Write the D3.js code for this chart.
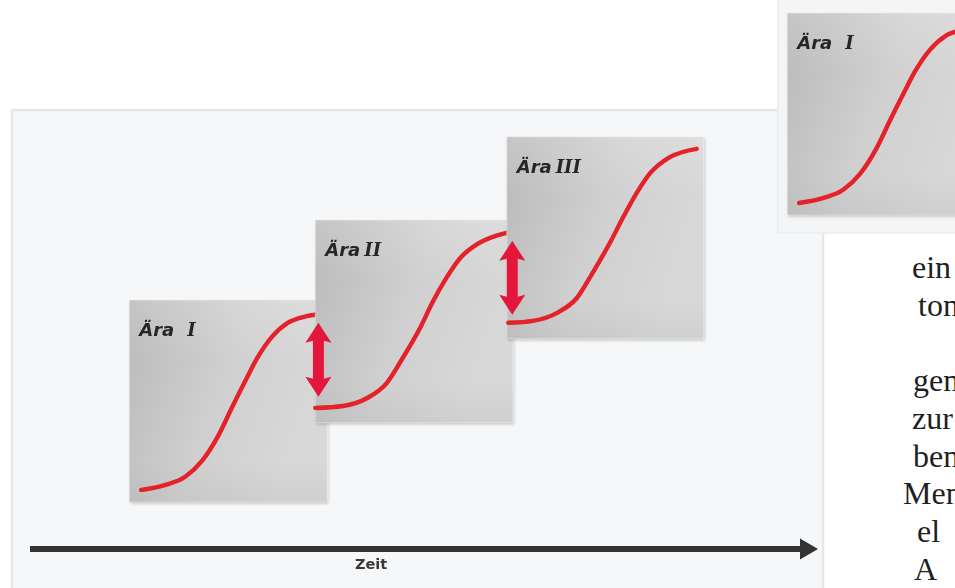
<!DOCTYPE html>
<html>
<head>
<meta charset="utf-8">
<script src="https://cdn.jsdelivr.net/npm/d3@7"></script>
<style>
  html, body { margin: 0; padding: 0; background: #ffffff; }
  svg { display: block; }
</style>
</head>
<body>
<svg id="chart" width="955" height="588"></svg>
<script>
// ---- data -------------------------------------------------------------
// Three technology eras, each an S-curve of performance (0-100) over time (0-100)
const eraWords  = ["Ära", "Ära", "Ära"];
const numerals  = ["I", "II", "III"];
const eraStart  = [12.6, 36.2, 60.5];
const eraEnd    = [37.7, 61.3, 85.5];
const eraLow    = [7.0, 26.8, 47.8];
const eraHigh   = [57.5, 77.5, 98.3];

// S-curve samples per era: time values and performance values
const timeI  = [14.1, 17.1, 19.7, 21.8, 23.9, 25.6, 27.3, 28.9, 30.7, 32.7, 35.0, 36.2];
const perfI  = [10.0, 11.2, 13.3, 17.2, 23.6, 30.5, 37.2, 43.2, 48.3, 51.8, 53.4, 53.8];
const timeII = [36.2, 39.7, 42.8, 45.3, 47.3, 49.5, 51.1, 52.9, 54.6, 56.7, 59.2, 60.5];
const perfII = [30.5, 31.0, 33.0, 36.8, 43.0, 50.5, 57.0, 63.2, 68.0, 71.4, 73.6, 74.3];
const timeIII = [60.7, 63.8, 66.9, 69.4, 71.4, 73.6, 75.3, 77.0, 78.7, 81.2, 84.6];
const perfIII = [51.8, 52.3, 54.3, 58.0, 64.3, 71.8, 78.3, 84.3, 89.2, 93.2, 95.3];

// Performance jumps between consecutive eras
const jumpTime   = [36.6, 61.2];
const jumpTop    = [51.8, 72.3];
const jumpBottom = [33.3, 53.8];

const timeDomain = [0, 100];
const timeLabel = "Zeit";

// Text column beside the figure
const sideLines = ["ein", "ton", "", "gen", "zur", "ben", "Men", "el", "A"];
const sideIndent = [912, 918, 0, 913, 912, 913, 903, 917, 914];

// ---- layout -----------------------------------------------------------
const svg = d3.select("#chart");
const x = d3.scaleLinear().domain(timeDomain).range([30, 818]);
const y = d3.scaleLinear().domain([0, 100]).range([530, 130]);

const curves = [
  d3.zip(timeI, perfI),
  d3.zip(timeII, perfII),
  d3.zip(timeIII, perfIII)
];

const defs = svg.append("defs");

const g1 = defs.append("linearGradient").attr("id", "boxFill")
  .attr("x1", 0).attr("y1", 0).attr("x2", 1).attr("y2", 0.35);
g1.append("stop").attr("offset", 0).attr("stop-color", "#b9b9b9");
g1.append("stop").attr("offset", 0.55).attr("stop-color", "#d0d0d0");
g1.append("stop").attr("offset", 1).attr("stop-color", "#d8d8d8");

const g2 = defs.append("linearGradient").attr("id", "boxShade")
  .attr("x1", 0).attr("y1", 0).attr("x2", 0).attr("y2", 1);
g2.append("stop").attr("offset", 0).attr("stop-color", "#ffffff").attr("stop-opacity", 0.18);
g2.append("stop").attr("offset", 0.3).attr("stop-color", "#ffffff").attr("stop-opacity", 0);
g2.append("stop").attr("offset", 0.8).attr("stop-color", "#000000").attr("stop-opacity", 0);
g2.append("stop").attr("offset", 1).attr("stop-color", "#000000").attr("stop-opacity", 0.04);

const shadow = defs.append("filter").attr("id", "boxShadow")
  .attr("x", "-10%").attr("y", "-10%").attr("width", "125%").attr("height", "125%");
shadow.append("feDropShadow").attr("dx", 1).attr("dy", 1.5)
  .attr("stdDeviation", 1.6).attr("flood-color", "#000").attr("flood-opacity", 0.22);

const soft = defs.append("filter").attr("id", "soft");
soft.append("feGaussianBlur").attr("stdDeviation", 0.45);

const axisShadow = defs.append("filter").attr("id", "axisShadow")
  .attr("x", "-5%").attr("y", "-100%").attr("width", "110%").attr("height", "300%");
axisShadow.append("feGaussianBlur").attr("stdDeviation", 1.4);

// page panels
svg.append("rect").attr("x", 12).attr("y", 110).attr("width", 811).attr("height", 490)
  .attr("fill", "#f6f7f9").attr("stroke", "#e6e7e9").attr("stroke-width", 2.5);
svg.append("rect").attr("x", 778).attr("y", -2).attr("width", 180).attr("height", 235)
  .attr("fill", "#f4f5f7").attr("stroke", "#eaebed").attr("stroke-width", 1.5);

// ---- era panels with S-curves --------------------------------------------
const line = d3.line()
  .x(d => x(d[0])).y(d => y(d[1]))
  .curve(d3.curveMonotoneX);

function drawEra(parent, i) {
  const g = parent.append("g").attr("class", "era");
  g.append("rect")
    .attr("x", x(eraStart[i])).attr("y", y(eraHigh[i]))
    .attr("width", x(eraEnd[i]) - x(eraStart[i]))
    .attr("height", y(eraLow[i]) - y(eraHigh[i]))
    .attr("fill", "url(#boxFill)")
    .attr("filter", "url(#boxShadow)");
  g.append("rect")
    .attr("x", x(eraStart[i])).attr("y", y(eraHigh[i]))
    .attr("width", x(eraEnd[i]) - x(eraStart[i]))
    .attr("height", y(eraLow[i]) - y(eraHigh[i]))
    .attr("fill", "url(#boxShade)")
    .attr("stroke", "rgba(255,255,255,0.35)").attr("stroke-width", 1);
  g.append("path")
    .attr("d", line(curves[i]))
    .attr("fill", "none")
    .attr("stroke", "#e3202c")
    .attr("stroke-width", 4.4)
    .attr("stroke-linecap", "round")
    .attr("filter", "url(#soft)");
  const t = g.append("text")
    .attr("x", x(eraStart[i]) + 10)
    .attr("y", y(eraHigh[i]) + 36)
    .attr("fill", "#262626")
    .attr("font-weight", "bold")
    .attr("font-style", "italic")
    .attr("font-size", 18)
    .attr("filter", "url(#soft)");
  t.append("tspan").attr("font-family", "'DejaVu Sans', sans-serif").text(eraWords[i]);
  t.append("tspan").attr("font-family", "'DejaVu Serif', serif")
    .attr("dx", i === 0 ? 13 : 4).attr("font-size", 18).text(numerals[i]);
}

const main = svg.append("g");
[0, 1, 2].forEach(i => drawEra(main, i));

// thumbnail of the first era in the side panel
const thumb = svg.append("g").attr("transform", "translate(658,-287)");
drawEra(thumb, 0);

// ---- jump arrows between eras --------------------------------------------
const hl = 20, hw = 13, sw = 5.5;
function doubleArrow(cx, y0, y1) {
  return `M${cx},${y0} L${cx + hw},${y0 + hl} L${cx + sw},${y0 + hl - 2} L${cx + sw},${y1 - hl + 2}` +
         ` L${cx + hw},${y1 - hl} L${cx},${y1} L${cx - hw},${y1 - hl} L${cx - sw},${y1 - hl + 2}` +
         ` L${cx - sw},${y0 + hl - 2} L${cx - hw},${y0 + hl} Z`;
}
main.selectAll("path.jump")
  .data(d3.range(jumpTime.length))
  .join("path")
  .attr("class", "jump")
  .attr("d", i => doubleArrow(x(jumpTime[i]), y(jumpTop[i]), y(jumpBottom[i])))
  .attr("fill", "#e4193a")
  .attr("filter", "url(#soft)");

// ---- time axis -------------------------------------------------------------
const axisY = 549;
svg.append("line")
  .attr("x1", x(timeDomain[0])).attr("x2", x(timeDomain[1]) - 14)
  .attr("y1", axisY + 2.5).attr("y2", axisY + 2.5)
  .attr("stroke", "#9a9a9a").attr("stroke-width", 6)
  .attr("filter", "url(#axisShadow)");
svg.append("line")
  .attr("x1", x(timeDomain[0])).attr("x2", x(timeDomain[1]) - 14)
  .attr("y1", axisY).attr("y2", axisY)
  .attr("stroke", "#333333").attr("stroke-width", 6);
svg.append("path")
  .attr("d", `M${x(timeDomain[1])},${axisY} L${x(timeDomain[1]) - 18},${axisY - 10.5} L${x(timeDomain[1]) - 18},${axisY + 10.5} Z`)
  .attr("fill", "#333333");
svg.append("text")
  .attr("x", 371).attr("y", 569)
  .attr("text-anchor", "middle")
  .attr("font-family", "'DejaVu Sans', sans-serif")
  .attr("font-weight", "bold")
  .attr("font-size", 14.5)
  .attr("fill", "#383838")
  .attr("filter", "url(#soft)")
  .text(timeLabel);

// ---- side text column ------------------------------------------------------
svg.append("g").selectAll("text")
  .data(sideLines)
  .join("text")
  .attr("x", (d, i) => sideIndent[i])
  .attr("y", (d, i) => 278 + i * 37.7)
  .attr("font-family", "'Liberation Serif', 'Times New Roman', serif")
  .attr("font-size", 32)
  .attr("fill", "#1f1f1f")
  .text(d => d);
</script>
</body>
</html>
